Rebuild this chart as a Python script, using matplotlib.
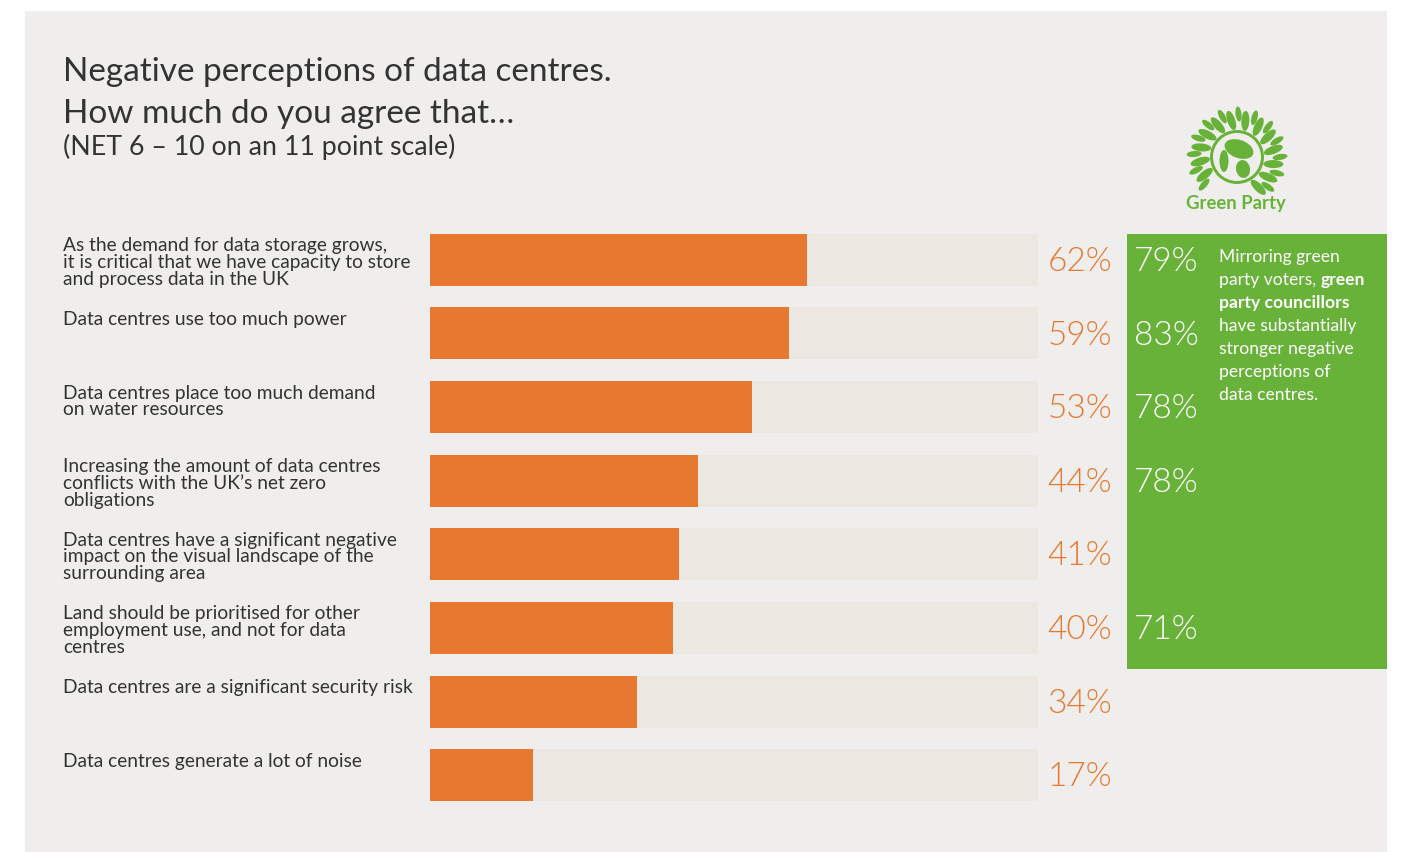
import matplotlib
matplotlib.use("Agg")
import matplotlib.pyplot as plt
from matplotlib.patches import Rectangle, Ellipse, Circle
import numpy as np

plt.rcParams['font.family'] = ['Lato', 'DejaVu Sans']

# ---------------- data ----------------
categories = [
    "As the demand for data storage grows,\nit is critical that we have capacity to store\nand process data in the UK",
    "Data centres use too much power",
    "Data centres place too much demand\non water resources",
    "Increasing the amount of data centres\nconflicts with the UK\u2019s net zero\nobligations",
    "Data centres have a significant negative\nimpact on the visual landscape of the\nsurrounding area",
    "Land should be prioritised for other\nemployment use, and not for data\ncentres",
    "Data centres are a significant security risk",
    "Data centres generate a lot of noise",
]
all_voters = [62, 59, 53, 44, 41, 40, 34, 17]
councillors = [79, 83, 78, 78, None, 71, None, None]
title_lines = ["Negative perceptions of data centres.", "How much do you agree that\u2026"]
subtitle = "(NET 6 \u2013 10 on an 11 point scale)"
note_lines = [
    [("Mirroring green", "normal")],
    [("party voters, ", "normal"), ("green", "bold")],
    [("party councillors", "bold")],
    [("have substantially", "normal")],
    [("stronger negative", "normal")],
    [("perceptions of", "normal")],
    [("data centres.", "normal")],
]
logo_text = "Green Party"

# ---------------- style ----------------
W, H = 1401, 852
BG = "#EFEEEC"
TRACK = "#ECE7E1"
ORANGE = "#E77830"
GREEN = "#69B23A"
TXT = "#333333"

def fx(x):
    return x / W

def fy(y):
    return 1 - y / H

fig = plt.figure(figsize=(W / 100, H / 100), dpi=100)
fig.patch.set_facecolor("white")
fig.add_artist(Rectangle((fx(25), fy(852)), fx(1387) - fx(25), fy(11) - fy(852),
                         transform=fig.transFigure, facecolor=BG, edgecolor="none", zorder=-3))

# green panel
fig.add_artist(Rectangle((fx(1127), fy(669)), fx(1387) - fx(1127), fy(234) - fy(669),
                         transform=fig.transFigure, facecolor=GREEN, edgecolor="none", zorder=-2))

# titles
fig.text(fx(63), fy(81), title_lines[0], fontsize=24, color=TXT, va="baseline", ha="left")
fig.text(fx(63), fy(123), title_lines[1], fontsize=24, color=TXT, va="baseline", ha="left")
fig.text(fx(63), fy(155), subtitle, fontsize=19.3, color=TXT, va="baseline", ha="left")

# bars axes
row_top, row_bot = 223, 812
ax = fig.add_axes([fx(430), fy(row_bot), fx(1038) - fx(430), fy(row_top) - fy(row_bot)])
ax.set_facecolor("none")
n = len(categories)
y = np.arange(n)
bh = 0.707
ax.barh(y, [100 - v for v in all_voters], left=all_voters, height=bh, color=TRACK, zorder=1)
ax.barh(y, all_voters, height=bh, color=ORANGE, zorder=2)
ax.set_xlim(0, 100)
ax.set_ylim(n - 0.5, -0.5)
ax.axis("off")

for i, (cat, v, c) in enumerate(zip(categories, all_voters, councillors)):
    ax.annotate(cat, xy=(fx(63), i - bh / 2), xycoords=("figure fraction", "data"),
                xytext=(0, -2.5), textcoords="offset points",
                ha="left", va="top", fontsize=13.8, color=TXT, linespacing=0.98,
                annotation_clip=False)
    ax.annotate(f"{v}%", xy=(fx(1112), i), xycoords=("figure fraction", "data"),
                xytext=(0, -1.5), textcoords="offset points",
                ha="right", va="center", fontsize=24, color=ORANGE, fontweight=300,
                annotation_clip=False)
    if c is not None:
        ax.annotate(f"{c}%", xy=(fx(1166), i), xycoords=("figure fraction", "data"),
                    xytext=(0, -1.5), textcoords="offset points",
                    ha="center", va="center", fontsize=24, color="white", fontweight=300,
                    annotation_clip=False, zorder=5)

# note text with mixed weight
fig.canvas.draw()
renderer = fig.canvas.get_renderer()
y0 = 257
for k, parts in enumerate(note_lines):
    xp = 1219
    for txt, wt in parts:
        t = fig.text(fx(xp), fy(y0 + k * 23), txt, fontsize=12.6, color="white",
                     fontweight=wt, ha="left", va="center", zorder=5)
        bb = t.get_window_extent(renderer=renderer)
        xp += bb.width

# logo
lax = fig.add_axes([fx(1180), fy(195), fx(1290) - fx(1180), fy(105) - fy(195)])
lax.set_xlim(-55, 55)
lax.set_ylim(-45, 45)
lax.set_aspect("equal")
lax.axis("off")
cx, cy = 2, -7
for ang in np.arange(-55, 215, 22):
    a = np.deg2rad(ang)
    lax.add_patch(Ellipse((cx + 37 * np.cos(a), cy + 37 * np.sin(a)), 20, 8,
                          angle=ang + 10, facecolor=GREEN, edgecolor="none"))
    a2 = np.deg2rad(ang + 11)
    lax.add_patch(Ellipse((cx + 43 * np.cos(a2), cy + 43 * np.sin(a2)), 15, 6,
                          angle=ang + 20, facecolor=GREEN, edgecolor="none"))
lax.add_patch(Circle((cx, cy), 27, facecolor=GREEN, edgecolor="none"))
lax.add_patch(Circle((cx, cy), 24, facecolor=BG, edgecolor="none"))
lax.add_patch(Ellipse((cx + 2, cy + 8), 30, 18, angle=-20, facecolor=GREEN, edgecolor="none"))
lax.add_patch(Ellipse((cx + 6, cy - 12), 14, 18, angle=10, facecolor=GREEN, edgecolor="none"))
lax.add_patch(Ellipse((cx - 13, cy - 4), 9, 22, angle=0, facecolor=GREEN, edgecolor="none"))
fig.text(fx(1236), fy(203), logo_text, fontsize=13.3, fontweight="bold", color=GREEN,
         ha="center", va="center")

fig.savefig("out.png", dpi=100, facecolor="white")
